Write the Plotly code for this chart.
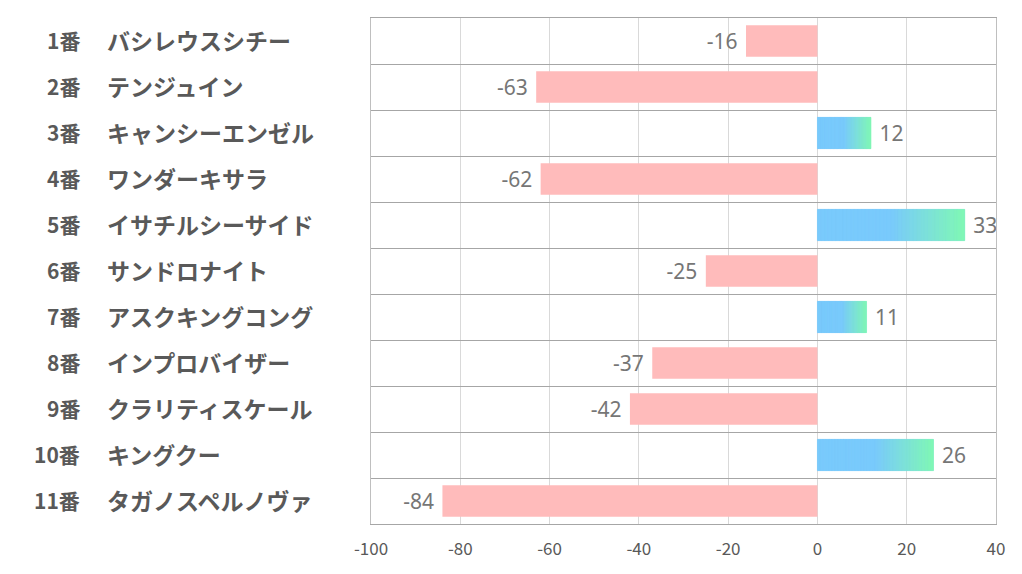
import plotly.graph_objects as go

numbers = ["1番", "2番", "3番", "4番", "5番", "6番", "7番", "8番", "9番", "10番", "11番"]
horses = [
    "バシレウスシチー", "テンジュイン", "キャンシーエンゼル", "ワンダーキサラ",
    "イサチルシーサイド", "サンドロナイト", "アスクキングコング", "インプロバイザー",
    "クラリティスケール", "キングクー", "タガノスペルノヴァ",
]
scores = [-16, -63, 12, -62, 33, -25, 11, -37, -42, 26, -84]

x_ticks = [-100, -80, -60, -40, -20, 0, 20, 40]

pink = "#FFBBBB"
blue = (121, 202, 252)
green = (128, 248, 180)

rows = list(range(len(scores)))


def grad_colour(t):
    # solid blue for the first half, then fade to green
    if t < 0.5:
        f = 0.0
    else:
        f = (t - 0.5) / 0.5
    c = [round(b + (g - b) * f) for b, g in zip(blue, green)]
    return f"rgb({c[0]},{c[1]},{c[2]})"


def label(v):
    # a little breathing room between bar end and value
    return f"{v} " if v < 0 else f" {v}"


fig = go.Figure()

# main bars (with value labels)
fig.add_trace(go.Bar(
    x=scores,
    y=rows,
    orientation="h",
    width=0.68,
    marker=dict(color=[pink if v < 0 else grad_colour(0) for v in scores], line=dict(width=0)),
    text=[label(v) for v in scores],
    textposition="outside",
    textfont=dict(family="Noto Sans, Liberation Sans", size=21, color="#767676"),
    cliponaxis=False,
    hoverinfo="skip",
))

# gradient slices over the positive bars
n_slices = 40
seg_x, seg_base, seg_y, seg_col = [], [], [], []
for r, v in zip(rows, scores):
    if v <= 0:
        continue
    for k in range(n_slices):
        seg_base.append(v * k / n_slices)
        seg_x.append(v / n_slices)
        seg_y.append(r)
        seg_col.append(grad_colour((k + 0.5) / n_slices))

fig.add_trace(go.Bar(
    x=seg_x,
    base=seg_base,
    y=seg_y,
    orientation="h",
    width=0.68,
    marker=dict(color=seg_col, line=dict(width=0.6, color=seg_col)),
    hoverinfo="skip",
))

# row labels
for r, num, name in zip(rows, numbers, horses):
    fig.add_annotation(
        x=-0.4624, y=r, xref="paper", yref="y", text=f"<b>{num}</b>",
        showarrow=False, xanchor="right", yshift=1,
        font=dict(family="Noto Sans CJK JP", size=21, color="#595959"),
    )
    fig.add_annotation(
        x=-0.4256, y=r, xref="paper", yref="y", text=f"<b>{name}</b>",
        showarrow=False, xanchor="left", yshift=1,
        font=dict(family="Noto Sans CJK JP", size=23, color="#595959"),
    )

# the page body adds an 8px offset, so the figure is drawn 8px smaller
fig.update_layout(
    width=1014,
    height=566,
    margin=dict(l=363, r=26, t=10, b=50),
    paper_bgcolor="white",
    plot_bgcolor="white",
    showlegend=False,
    barmode="overlay",
    xaxis=dict(
        range=[-100, 40],
        tickvals=x_ticks,
        ticktext=[str(t) for t in x_ticks],
        showgrid=True,
        gridcolor="#D9D9D9",
        gridwidth=1,
        zeroline=False,
        showline=True,
        linecolor="#A6A6A6",
        mirror=True,
        ticks="",
        ticklabelstandoff=10,
        tickfont=dict(family="Noto Sans CJK JP", size=17, color="#595959"),
    ),
    yaxis=dict(
        range=[len(scores) - 0.5, -0.5],
        tickvals=[r + 0.5 for r in rows[:-1]],
        showticklabels=False,
        showgrid=True,
        gridcolor="#A6A6A6",
        gridwidth=1,
        zeroline=False,
        showline=True,
        linecolor="#BFBFBF",
        mirror=True,
        ticks="",
    ),
)

fig.write_html("out.html")
